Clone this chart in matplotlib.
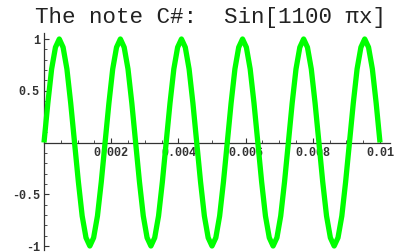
import matplotlib
matplotlib.use("Agg")
import matplotlib.pyplot as plt
from matplotlib.ticker import MultipleLocator, FixedLocator, FixedFormatter

title = "The note C#:  Sin[1100 \u03c0x]"

# sample points
x_vals = [0, 0.000114, 0.000227, 0.000341, 0.000455, 0.000568, 0.000682, 0.000795,
          0.000909, 0.001023, 0.001136, 0.001250, 0.001364, 0.001477, 0.001591, 0.001705,
          0.001818, 0.001932, 0.002045, 0.002159, 0.002273, 0.002386, 0.002500, 0.002614,
          0.002727, 0.002841, 0.002955, 0.003068, 0.003182, 0.003295, 0.003409, 0.003523,
          0.003636, 0.003750, 0.003864, 0.003977, 0.004091, 0.004205, 0.004318, 0.004432,
          0.004545, 0.004659, 0.004773, 0.004886, 0.005000, 0.005114, 0.005227, 0.005341,
          0.005455, 0.005568, 0.005682, 0.005795, 0.005909, 0.006023, 0.006136, 0.006250,
          0.006364, 0.006477, 0.006591, 0.006705, 0.006818, 0.006932, 0.007045, 0.007159,
          0.007273, 0.007386, 0.007500, 0.007614, 0.007727, 0.007841, 0.007955, 0.008068,
          0.008182, 0.008295, 0.008409, 0.008523, 0.008636, 0.008750, 0.008864, 0.008977,
          0.009091, 0.009205, 0.009318, 0.009432, 0.009545, 0.009659, 0.009773, 0.009886,
          0.010000]
y_vals = [0, 0.38, 0.71, 0.92, 1, 0.92, 0.71, 0.38, 0, -0.38, -0.71, -0.92, -1, -0.92, -0.71, -0.38,
          0, 0.38, 0.71, 0.92, 1, 0.92, 0.71, 0.38, 0, -0.38, -0.71, -0.92, -1, -0.92, -0.71, -0.38,
          0, 0.38, 0.71, 0.92, 1, 0.92, 0.71, 0.38, 0, -0.38, -0.71, -0.92, -1, -0.92, -0.71, -0.38,
          0, 0.38, 0.71, 0.92, 1, 0.92, 0.71, 0.38, 0, -0.38, -0.71, -0.92, -1, -0.92, -0.71, -0.38,
          0, 0.38, 0.71, 0.92, 1, 0.92, 0.71, 0.38, 0, -0.38, -0.71, -0.92, -1, -0.92, -0.71, -0.38,
          0, 0.38, 0.71, 0.92, 1, 0.92, 0.71, 0.38, 0]

x_ticks = [0.002, 0.004, 0.006, 0.008, 0.01]
x_labels = ["0.002", "0.004", "0.006", "0.008", "0.01"]
y_ticks = [-1, -0.5, 0.5, 1]
y_labels = ["-1", "-0.5", "0.5", "1"]

W, H = 394, 252
fig = plt.figure(figsize=(W / 100, H / 100), dpi=100)
ax = fig.add_axes([44 / W, 1 - 250 / H, (390 - 44) / W, (250 - 33) / H])

ax.plot(x_vals, y_vals, color="#00ff00", lw=3.8, solid_joinstyle="round",
        solid_capstyle="butt", zorder=3, clip_on=False)

ax.set_xlim(0, 0.01 * (390 - 44) / (380 - 44))
ax.set_ylim(-1 - 4 / 103.5, 1 + 6 / 103.5)

for s in ["top", "right"]:
    ax.spines[s].set_visible(False)
ax.spines["left"].set_position(("data", 0))
ax.spines["bottom"].set_position(("data", 0))
for s in ["left", "bottom"]:
    ax.spines[s].set_color("#333333")
    ax.spines[s].set_linewidth(0.9)

ax.xaxis.set_major_locator(FixedLocator(x_ticks))
ax.xaxis.set_major_formatter(FixedFormatter(x_labels))
ax.yaxis.set_major_locator(FixedLocator(y_ticks))
ax.yaxis.set_major_formatter(FixedFormatter(y_labels))
ax.xaxis.set_minor_locator(MultipleLocator(0.0005))
ax.yaxis.set_minor_locator(MultipleLocator(0.1))

ax.tick_params(which="major", direction="in", length=3.5, width=0.8, color="#333333",
               labelsize=8.5, labelcolor="#333333", pad=3)
ax.tick_params(which="minor", direction="in", length=2, width=0.6, color="#333333")
for lab in ax.get_xticklabels() + ax.get_yticklabels():
    lab.set_fontfamily("Liberation Mono")
    lab.set_fontweight("bold")

fig.text(35 / W, 1 - 17 / H, title, family=["Liberation Mono", "DejaVu Sans"],
         fontsize=16.2, color="#222222", ha="left", va="center")

fig.savefig("out.png", dpi=100)
